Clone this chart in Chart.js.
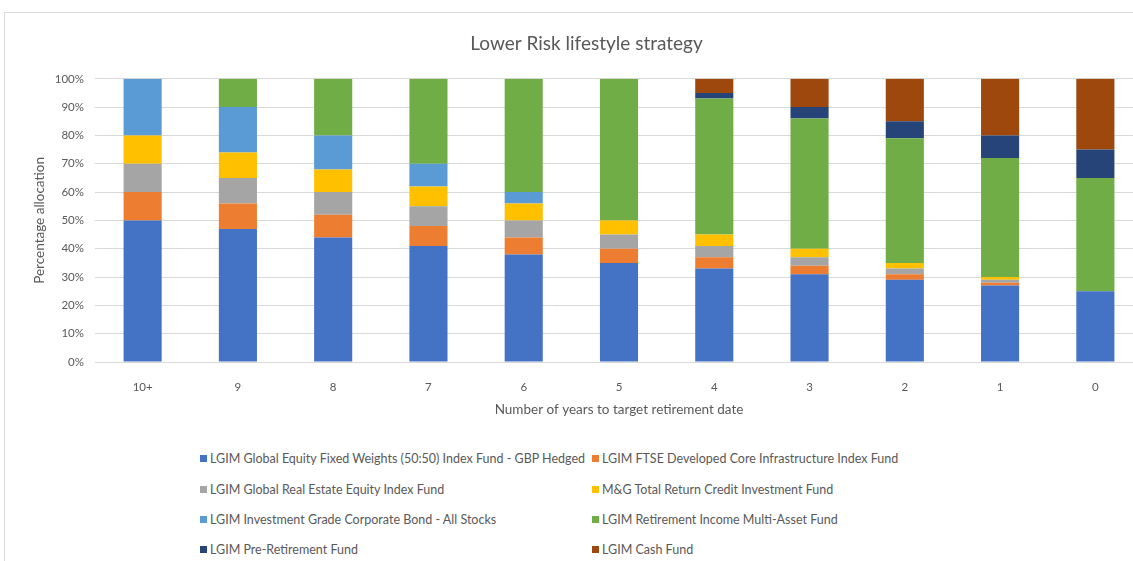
<!DOCTYPE html>
<html>
<head>
<meta charset="utf-8">
<script src="https://cdn.jsdelivr.net/npm/chart.js@4/dist/chart.umd.min.js"></script>
<style>
    body { margin: 0; overflow: hidden; background: #fff; font-family: Lato, "Open Sans", sans-serif; }
    #frame { position: absolute; left: 4px; top: 12px; width: 1160px; height: 580px; border: 1px solid #d9d9d9; }
    #wrap { position: absolute; left: 0; top: 0; width: 1150px; height: 430px; }
    #legend { position: absolute; left: 0; top: 0; }
    .item { position: absolute; color: #595959; font-size: 12.5px; white-space: nowrap; line-height: 14px; }
    .box { display: inline-block; width: 7px; height: 7px; margin-right: 3px; vertical-align: 1px; }
</style>
</head>
<body>
<div id="frame"></div>
<div id="wrap"><canvas id="chart" width="1150" height="430"></canvas></div>
<div id="legend"></div>
<script>
var years = ['10+', '9', '8', '7', '6', '5', '4', '3', '2', '1', '0'];

var fundNames = [
    'LGIM Global Equity Fixed Weights (50:50) Index Fund - GBP Hedged',
    'LGIM FTSE Developed Core Infrastructure Index Fund',
    'LGIM Global Real Estate Equity Index Fund',
    'M&G Total Return Credit Investment Fund',
    'LGIM Investment Grade Corporate Bond - All Stocks',
    'LGIM Retirement Income Multi-Asset Fund',
    'LGIM Pre-Retirement Fund',
    'LGIM Cash Fund'
];

var globalEquity   = [50, 47, 44, 41, 38, 35, 33, 31, 29, 27, 25];
var infrastructure = [10, 9, 8, 7, 6, 5, 4, 3, 2, 1, 0];
var realEstate     = [10, 9, 8, 7, 6, 5, 4, 3, 2, 1, 0];
var totalReturn    = [10, 9, 8, 7, 6, 5, 4, 3, 2, 1, 0];
var corporateBond  = [20, 16, 12, 8, 4, 0, 0, 0, 0, 0, 0];
var multiAsset     = [0, 10, 20, 30, 40, 50, 48, 46, 44, 42, 40];
var preRetirement  = [0, 0, 0, 0, 0, 0, 2, 4, 6, 8, 10];
var cashFund       = [0, 0, 0, 0, 0, 0, 5, 10, 15, 20, 25];

var yTicks = [0, 10, 20, 30, 40, 50, 60, 70, 80, 90, 100];

var colors = ['#4472C4', '#ED7D31', '#A5A5A5', '#FFC000', '#5B9BD5', '#70AD47', '#264478', '#9E480E'];
var series = [globalEquity, infrastructure, realEstate, totalReturn, corporateBond, multiAsset, preRetirement, cashFund];

var datasets = [];
for (var i = 0; i < series.length; i++) {
    datasets.push({
        label: fundNames[i],
        data: series[i],
        backgroundColor: colors[i],
        borderWidth: 0,
        barPercentage: 0.4,
        categoryPercentage: 1
    });
}

var ctx = document.getElementById('chart').getContext('2d');
var myChart = new Chart(ctx, {
    type: 'bar',
    data: {
        labels: years,
        datasets: datasets
    },
    options: {
        responsive: false,
        animation: false,
        layout: {
            padding: { left: 30, right: 7, top: 0, bottom: 12 }
        },
        plugins: {
            legend: { display: false },
            tooltip: { enabled: false },
            title: {
                display: true,
                text: 'Lower Risk lifestyle strategy',
                color: '#595959',
                font: { family: 'Lato', size: 19, weight: 'normal' },
                padding: { top: 32, bottom: 24 }
            }
        },
        scales: {
            x: {
                stacked: true,
                grid: { display: false },
                border: { color: '#d9d9d9' },
                ticks: { color: '#595959', font: { family: 'Lato', size: 11.5 }, padding: 10 },
                title: {
                    display: true,
                    text: 'Number of years to target retirement date',
                    color: '#595959',
                    font: { family: 'Lato', size: 13.5 },
                    padding: 0
                },
                afterFit: function(scale) { scale.height = 56; }
            },
            y: {
                stacked: true,
                min: 0,
                max: 100,
                afterBuildTicks: function(scale) {
                    scale.ticks = yTicks.map(function(v) { return { value: v }; });
                },
                grid: { color: '#d9d9d9', drawTicks: false },
                border: { display: false },
                ticks: {
                    color: '#595959',
                    font: { family: 'Lato', size: 11.5 },
                    padding: 11,
                    callback: function(v) { return v + '%'; }
                },
                title: {
                    display: true,
                    text: 'Percentage allocation',
                    color: '#595959',
                    font: { family: 'Lato', size: 13.5 },
                    padding: 2
                },
                afterFit: function(scale) { scale.width = 65; }
            }
        }
    }
});

// legend laid out in two columns like the original
var legendCols = [200, 592];
var legendRows = [459, 490, 520, 550];
var legend = document.getElementById('legend');
for (var k = 0; k < fundNames.length; k++) {
    var item = document.createElement('div');
    item.className = 'item';
    item.style.left = legendCols[k % 2] + 'px';
    item.style.top = (legendRows[Math.floor(k / 2)] - 7) + 'px';
    var box = document.createElement('span');
    box.className = 'box';
    box.style.background = colors[k];
    item.appendChild(box);
    item.appendChild(document.createTextNode(fundNames[k]));
    legend.appendChild(item);
}
</script>
</body>
</html>
